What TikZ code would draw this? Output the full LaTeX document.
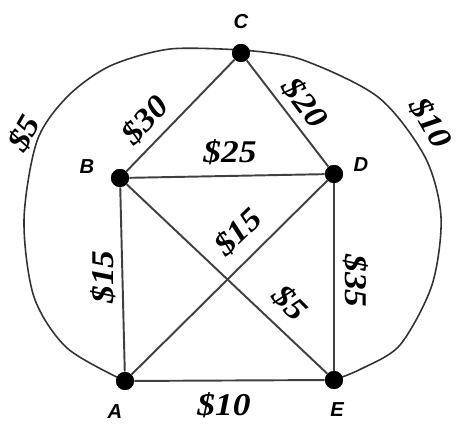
\documentclass[tikz,border=0pt]{standalone}
\usepackage{fontspec}
\setmainfont{Liberation Serif}
\newfontfamily\vfont{Liberation Sans}
\begin{document}
\begin{tikzpicture}[x=0.02cm,y=0.02cm,
  vert/.style={circle,fill=black,inner sep=0pt,minimum size=0.36cm},
  vlab/.style={font=\vfont\bfseries\itshape\fontsize{11.5}{12}\selectfont,inner sep=0pt},
  elab/.style={font=\bfseries\itshape\fontsize{18}{20}\selectfont,inner sep=0pt},
  edge/.style={draw=black!75,line width=1.1pt},
  bigarc/.style={draw=black!80,line width=0.9pt}]
\useasboundingbox (0,0) rectangle (456,425);
% vertices
\node[vert] (A) at (125,44) {};
\node[vert] (B) at (120,247) {};
\node[vert] (C) at (241,372) {};
\node[vert] (D) at (334,251) {};
\node[vert] (E) at (334,45) {};
\coordinate (Ctop) at (241,375);
% outer arcs
\draw[bigarc] plot[smooth] coordinates {(A) (67,77) (34,128) (24,205)
  (37,284) (67,328) (110,359) (170,376) (Ctop)};
\draw[bigarc] plot[smooth] coordinates {(Ctop) (300,366) (378,328)
  (425,268) (441,208) (432,140) (400,80) (361,56) (E)};
% edges
\draw[edge] (A) -- (B);
\draw[edge] (A) -- (D);
\draw[edge] (A) -- (E);
\draw[edge] (B) -- (C);
\draw[edge] (B) -- (D);
\draw[edge] (B) -- (E);
\draw[edge] (C) -- (D);
\draw[edge] (D) -- (E);
% vertices on top
\foreach \v in {A,B,C,D,E} \fill (\v) circle (0.18cm);
% vertex labels
\node[vlab] (lA) at (115,13) {A};
\node[vlab] (lB) at (87,258) {B};
\node[vlab] (lC) at (241,403) {C};
\node[vlab] (lD) at (361,260) {D};
\node[vlab] (lE) at (337,15) {E};
% edge labels
\node[elab,rotate=60] (e5a) at (24,292) {\scalebox{1.12}[1]{\$5}};
\node[elab,rotate=-60] (e10a) at (431,302) {\scalebox{1.12}[1]{\$10}};
\node[elab,rotate=47] (e30) at (145,305) {\scalebox{1.12}[1]{\$30}};
\node[elab,rotate=-53] (e20) at (305,322) {\scalebox{1.12}[1]{\$20}};
\node[elab] (e25) at (230,273) {\scalebox{1.12}[1]{\$25}};
\node[elab,rotate=90] (e15a) at (103,148) {\scalebox{1.12}[1]{\$15}};
\node[elab,rotate=44] (e15b) at (238,193) {\scalebox{1.12}[1]{\$15}};
\node[elab,rotate=-45] (e5b) at (290,122) {\scalebox{1.12}[1]{\$5}};
\node[elab,rotate=-90] (e35) at (356,144) {\scalebox{1.12}[1]{\$35}};
\node[elab] (e10b) at (224,20) {\scalebox{1.12}[1]{\$10}};
\end{tikzpicture}
\end{document}
